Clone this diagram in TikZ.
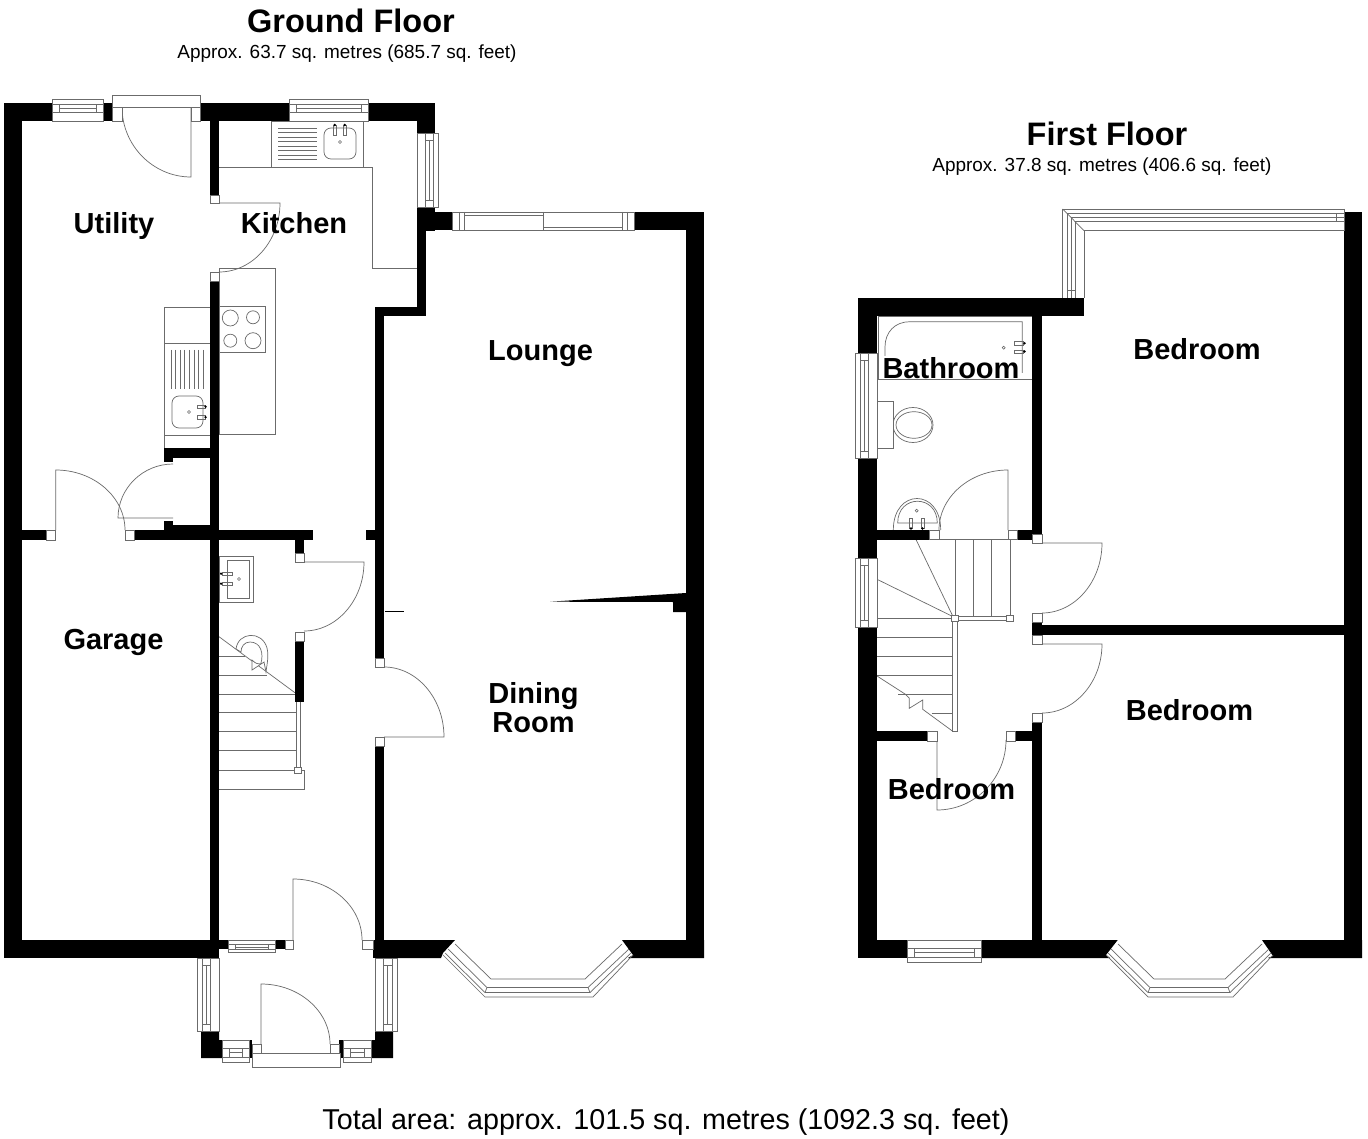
\documentclass[tikz,border=0pt]{standalone}
\usepackage{fontspec}
\setmainfont{Liberation Sans}

\tikzset{
  wall/.style={fill=black},
  thinline/.style={draw=black!58,line width=0.7pt},
  jamb/.style={thinline,fill=white},
  roomlabel/.style={anchor=base,inner sep=0pt,font=\bfseries\fontsize{29}{30}\selectfont},
  floortitle/.style={anchor=base,inner sep=0pt,font=\bfseries\fontsize{32.5}{34}\selectfont},
  floorarea/.style={anchor=base,inner sep=0pt,font=\fontsize{18.95}{20}\selectfont}
}

\begin{document}
\begin{tikzpicture}[x=1pt,y=-1pt]

  \fill[white] (0,0) rectangle (1368,1139);
  \useasboundingbox (0,0) rectangle (1368,1139);

  % kitchen units
  \draw[thinline] (219,167) -- (372,167) -- (372,268) -- (417,268);
  \draw[thinline] (271,121) rectangle (363,167);
  \foreach \y in {128,132.5,137,141.5,146,150.5,155,159.5} {
    \draw[thinline] (278,\y) -- (317,\y);
  };
  \draw[thinline] (219,268) rectangle (275,434);
  \draw[thinline] (219,306) rectangle (265,352);
  \foreach \x/\y/\r in {230.3/318/8,253/317.3/6.5,230.3/340.7/6.5,253/340.7/8} {
    \draw[thinline] (\x,\y) circle (\r);
  };

  % utility units
  \draw[thinline] (164,307) rectangle (210,448);
  \draw[thinline] (164,343) -- (210,343);
  \draw[thinline] (164,435) -- (210,435);
  \foreach \x in {171,175.6,180.2,184.8,189.4,194,198.6,203.2} {
    \draw[thinline] (\x,350) -- (\x,389);
  };

  % sinks with rounded bowls
  \foreach \xa/\ya/\xb/\yb in {324/128/356/159,172/396/203/428} {
    \draw[thinline,rounded corners=7pt] (\xa,\ya) rectangle (\xb,\yb);
  };
  \foreach \x/\y in {340/142,189/412,1003.7/347.7,916.7/510.7,239/579} {
    \draw[thinline,line width=0.6pt] (\x,\y) circle (1.5);
  };

  % taps, dot at the end
  \foreach \xa/\ya/\xb/\yb/\dx/\dy in {
      333.5/125/336/135/334.7/125, 343.5/125/346/135/344.7/125,
      197/405/205/408.5/205.5/406.7, 197/415.5/205/419/205.5/417.2,
      1014/341.7/1023/345/1024.5/343.3, 1014/350/1023/353/1024.5/351.5,
      909.5/518/912.5/528/911/528.5, 921/518/924/528/922.5/528.5,
      222/572/232/575.5/221/573.7, 222/582/232/585.5/221/583.7} {
    \draw[thinline] (\xa,\ya) rectangle (\xb,\yb);
    \fill[black] (\dx,\dy) circle (1.3);
  };

  % cloakroom basin
  \draw[thinline] (219,556) rectangle (253,602);
  \draw[thinline] (227,560) rectangle (249,598);

  % stairs, ground floor
  \foreach \y in {694,712.7,731.7,750.7,770} {
    \draw[thinline] (219,\y) -- (296,\y);
  };
  \draw[thinline] (219,636.7) -- (296.7,694);
  \draw[thinline] (219,656) -- (245,656);
  \draw[thinline] (219,675) -- (267,675);
  \draw[thinline] (219,770) -- (304,770) -- (304,789.3) -- (219,789.3);
  \draw[thinline] (296,694) rectangle (300,770);
  \draw[jamb] (294.5,767) rectangle (301,773);
  \draw[thinline,fill=white] (236,649) .. controls (238,632) and (262,630) .. (267,648)
    .. controls (269,656) and (267,664) .. (266,672) -- (264,662) -- (252,670) -- (252,660)
    .. controls (256,664) and (258,664) .. (260.7,664)
    .. controls (264,654) and (261,642) .. (250,642)
    .. controls (244,642) and (241,647) .. (241,652) -- cycle;

  % bathroom fittings
  \draw[thinline] (878,316) rectangle (1032,379);
  \draw[thinline] (1022.3,373) -- (1022.3,321.7) -- (910,321.7)
    .. controls (895,321.7) and (885,332) .. (885,347) -- (885,356);
  \draw[thinline] (913,425) ellipse (20 and 17.5);
  \draw[thinline] (914,425) ellipse (18 and 13.3);
  \fill[white] (877,402) rectangle (892.5,448);
  \draw[thinline] (877,401.7) rectangle (893,448);
  \draw[thinline] (893.3,530) .. controls (893.3,488) and (940.7,488) .. (940.7,530);
  \draw[thinline] (897.7,523) .. controls (897.7,494) and (937.3,494) .. (937.3,523) -- cycle;

  % stairs, first floor
  \draw[thinline] (877,539.5) -- (1010,539.5);
  \foreach \x in {955.3,973.3,991.7,1010} {
    \draw[thinline] (\x,539.5) -- (\x,616);
  };
  \draw[thinline] (916,539.5) -- (952.7,616);
  \draw[thinline] (877,579.3) -- (951.7,616);
  \foreach \y in {618.3,637.3,656,675} {
    \draw[thinline] (877,\y) -- (952.7,\y);
  };
  \draw[thinline] (898,694) -- (952.7,694);
  \draw[thinline] (931.7,713) -- (952.7,713);
  \draw[thinline] (877,676) -- (905,694) -- (909.3,698.3) -- (909.3,708.3) -- (922.7,700)
    -- (922.7,709.3) -- (953.3,731.7);
  \draw[jamb] (952.7,620) rectangle (957.3,731.7);
  \draw[thinline] (957,616) rectangle (1007,620.7);
  \draw[jamb] (951.7,615) rectangle (958.3,621.7);
  \draw[jamb] (1006.7,615) rectangle (1013.3,621.7);

  % door leaves with their swing
  \foreach \cx/\cy/\ax/\ay/\bx/\by in {
      191/107/191/177/122/107, 219/203/280/203/219/272, 173/518/118/518/173/464,
      55.7/530/55.7/470/125/530, 304/562/364/562/304/631, 384/737/444/737/384/667,
      293/940/293/879/362/940, 261/1044/261/984/330/1044,
      1008/530/1008/470/939/530, 1042/543/1102/543/1042/613,
      1042/644/1102/644/1042/713, 937/740/937/810/1006/740} {
    \draw[thinline] (\cx,\cy) -- (\ax,\ay)
      .. controls ({\ax+0.55*(\bx-\cx)},{\ay+0.55*(\by-\cy)})
      and ({\bx+0.55*(\ax-\cx)},{\by+0.55*(\ay-\cy)}) .. (\bx,\by);
  };

  % walls, ground floor
  \foreach \xa/\ya/\xb/\yb in {
      4/103/22/958, 4/103/52/121, 103/103/112/121, 200/103/289/121, 368/103/435/121,
      417/121/435/133, 417/207/435/231, 417/207/426/316, 435/212/452/230,
      375/307/426/316, 375/307/384/658, 375/746/384/958,
      210/121/219/195, 210/281/219/958, 366/530/375/540,
      22/530/46/540, 134/530/313/540, 295/540/304/553, 295/641/304/702,
      164/448/210/458, 164/458/173/462, 164/525/210/530, 164/521/173/525,
      4/940/219/958, 219/940/228/949, 275/940/285/949, 373/940/384/958,
      634/212/704/230, 686/212/704/958,
      249/1040/252/1058, 339/1040/343/1058} {
    \fill[wall] (\xa,\ya) rectangle (\xb,\yb);
  };
  \fill[wall] (375,940) -- (455,940) -- (443,953) -- (441,958) -- (375,958) -- cycle;
  \fill[wall] (622,940) -- (704,940) -- (704,958) -- (628,958) -- (633,955) -- cycle;
  \fill[wall] (550,601.7) -- (686,593) -- (686,612) -- (673,612) -- (673,602) -- cycle;
  \fill[wall] (201,1031) -- (219,1031) -- (219,1040) -- (222,1040) -- (222,1058) -- (201,1058) -- cycle;
  \fill[wall] (375,1031) -- (393,1031) -- (393,1058) -- (371,1058) -- (371,1040) -- (375,1040) -- cycle;
  \draw[black,line width=0.6pt] (385,611.7) -- (404,611.7);

  % walls, first floor
  \foreach \xa/\ya/\xb/\yb in {
      858/298/877/353, 858/458/877/558, 858/627/877/958, 858/298/1084/316,
      1032/316/1042/534, 1344/212/1362/958, 877/530/929/539.5, 1017/530/1032/539.5,
      1032/622/1042/635, 1042/625/1344/635, 1032/722/1042/958,
      877/731/927/741, 1015/731/1032/741, 858/940/907/958} {
    \fill[wall] (\xa,\ya) rectangle (\xb,\yb);
  };
  \fill[wall] (981,940) -- (1117.7,940) -- (1106,955) -- (1110,958) -- (981,958) -- cycle;
  \fill[wall] (1262,940) -- (1362,940) -- (1362,958) -- (1268,958) -- (1273,956) -- cycle;

  % door jambs
  \foreach \xa/\ya/\xb/\yb in {
      46/530/55.7/540, 125/530/134/540, 210/195/219/203, 210/272/219/281,
      295/553/304/562, 295/632/304/641, 375/658/384/667, 375/737/384/746,
      285/940/293/949, 362/940/373/949, 112/107/122/121, 191/107/200/121,
      252/1044/261/1053, 330/1044/339/1053, 112/95/200/107, 252/1053/340/1067,
      929/530/939/539.5, 1008/530/1017/539.5, 1032/534/1042/543, 1032/613/1042/622,
      1032/635/1042/644, 1032/713/1042/722, 927/731/937/741, 1006/731/1015/741} {
    \draw[jamb] (\xa,\ya) rectangle (\xb,\yb);
  };

  % windows in a wall along x, first y is the outer edge
  \foreach \xa/\xb/\ya/\yb in {
      52/103/99/121, 289/368/99/121, 228/275/952/940, 222/249/1062/1040,
      343/371/1062/1040, 907/981/962/940} {
    \draw[jamb] (\xa,\ya) rectangle (\xb,\yb);
    \draw[thinline] (\xa,{\ya+0.23*(\yb-\ya)}) -- (\xb,{\ya+0.23*(\yb-\ya)});
    \draw[thinline] (\xa,{\ya+0.6*(\yb-\ya)}) -- (\xb,{\ya+0.6*(\yb-\ya)});
    \draw[thinline] ({\xa+7},{\ya+0.42*(\yb-\ya)}) -- ({\xb-7},{\ya+0.42*(\yb-\ya)});
    \draw[thinline] ({\xa+7},{\ya+0.23*(\yb-\ya)}) -- ({\xa+7},{\ya+0.6*(\yb-\ya)});
    \draw[thinline] ({\xb-7},{\ya+0.23*(\yb-\ya)}) -- ({\xb-7},{\ya+0.6*(\yb-\ya)});
  };

  % windows in a wall along y, first x is the outer edge
  \foreach \ya/\yb/\xa/\xb in {
      133/207/438/417, 958/1031/197/219, 958/1031/397/375,
      353/458/855/877, 558/627/855/877} {
    \draw[jamb] (\xa,\ya) rectangle (\xb,\yb);
    \draw[thinline] ({\xa+0.23*(\xb-\xa)},\ya) -- ({\xa+0.23*(\xb-\xa)},\yb);
    \draw[thinline] ({\xa+0.6*(\xb-\xa)},\ya) -- ({\xa+0.6*(\xb-\xa)},\yb);
    \draw[thinline] ({\xa+0.42*(\xb-\xa)},{\ya+7}) -- ({\xa+0.42*(\xb-\xa)},{\yb-7});
    \draw[thinline] ({\xa+0.23*(\xb-\xa)},{\ya+7}) -- ({\xa+0.6*(\xb-\xa)},{\ya+7});
    \draw[thinline] ({\xa+0.23*(\xb-\xa)},{\yb-7}) -- ({\xa+0.6*(\xb-\xa)},{\yb-7});
  };

  % sliding window of the lounge
  \draw[jamb] (452,212) rectangle (634,230);
  \foreach \x in {459.5,464,543,622,627} {
    \draw[thinline] (\x,212) -- (\x,230);
  };
  \draw[thinline] (464,215.3) -- (543,215.3);
  \draw[thinline] (543,227) -- (622,227);

  % bay windows at the bottom
  \foreach \xl/\xr in {443/633,1106/1273} {
    \draw[thinline] (\xl,955) -- ({\xl+42},997) -- ({\xr-40},997) -- (\xr,955);
    \draw[thinline] ({\xl+12},944) -- ({\xl+48},979) -- ({\xr-48},979) -- ({\xr-11},944);
    \draw[thinline] ({\xl+5},949) -- ({\xl+44},987.5) -- ({\xr-45},987.5) -- ({\xr-4},949);
    \draw[thinline] ({\xl+2},953) -- ({\xl+42},992.5) -- ({\xr-43},992.5) -- ({\xr-2},953);
    \draw[thinline] ({\xl+44},987.5) -- ({\xl+42},992.5);
    \draw[thinline] ({\xr-45},987.5) -- ({\xr-43},992.5);
  };

  % corner window of the bedroom
  \foreach \y in {209,213.3,217.3,221.7,230.7} {
    \draw[thinline] ({1062.7+(\y-209)},\y) -- (1344,\y);
  };
  \foreach \x in {1062.7,1067.3,1071.7,1075,1084} {
    \draw[thinline] (\x,{209+(\x-1062.7)}) -- (\x,298);
  };
  \draw[thinline] (1062.7,209) -- (1084,230.7);
  \draw[thinline] (1344,209) -- (1344,230.7);
  \draw[thinline] (1336.7,213.3) rectangle (1344,221.7);
  \draw[thinline] (1067.3,290) -- (1075,290);

  % labels
  \node[floortitle] (groundtitle) at (351,33) {Ground Floor};
  \node[floorarea] (groundarea) at (347,58.5) {Approx. 63.7 sq. metres (685.7 sq. feet)};
  \node[floortitle] (firsttitle) at (1107,146) {First Floor};
  \node[floorarea] (firstarea) at (1102,171.5) {Approx. 37.8 sq. metres (406.6 sq. feet)};
  \node[roomlabel] (utility) at (114,234) {Utility};
  \node[roomlabel] (kitchen) at (294,233.5) {Kitchen};
  \node[roomlabel] (lounge) at (540.5,360.5) {Lounge};
  \node[roomlabel] (garage) at (113.5,649) {Garage};
  \node[roomlabel] (dining) at (533.5,703.5) {Dining};
  \node[roomlabel] (diningroom) at (533.5,732.5) {Room};
  \node[roomlabel] (bathroom) at (951,379) {Bathroom};
  \node[roomlabel] (bedroomtop) at (1197,359.5) {Bedroom};
  \node[roomlabel] (bedroomright) at (1189.5,720) {Bedroom};
  \node[roomlabel] (bedroomsmall) at (951.5,799.5) {Bedroom};
  \node[anchor=base,inner sep=0pt,font=\fontsize{28.7}{30}\selectfont] (total) at (666,1129)
    {Total area: approx. 101.5 sq. metres (1092.3 sq. feet)};

\end{tikzpicture}
\end{document}
